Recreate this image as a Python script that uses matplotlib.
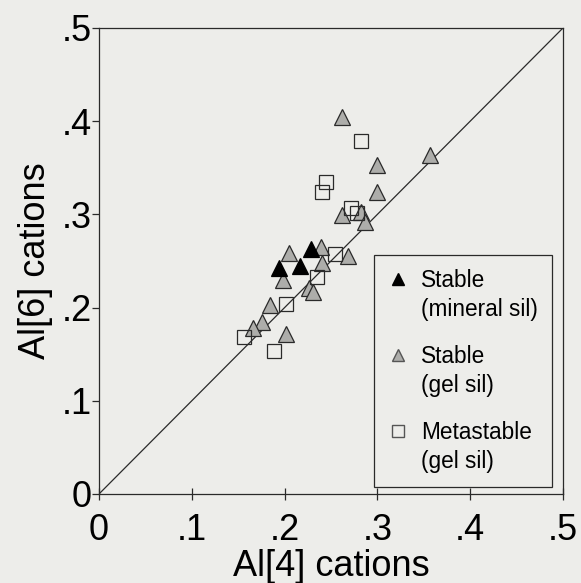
import matplotlib
matplotlib.use('Agg')
import matplotlib.pyplot as plt
import numpy as np
from matplotlib.lines import Line2D
from matplotlib.legend_handler import HandlerLine2D
from matplotlib.ticker import FuncFormatter

plt.rcParams['font.family'] = ['Liberation Sans', 'DejaVu Sans']

# Al[4] / Al[6] cation pairs
mineral_al4 = [0.228, 0.194, 0.217]
mineral_al6 = [0.263, 0.242, 0.245]

gel_al4 = [0.262, 0.300, 0.300, 0.357, 0.262, 0.282, 0.287, 0.205, 0.239,
           0.198, 0.240, 0.268, 0.226, 0.231, 0.184, 0.176, 0.166, 0.202]
gel_al6 = [0.405, 0.353, 0.324, 0.364, 0.299, 0.303, 0.292, 0.259, 0.265,
           0.230, 0.248, 0.255, 0.221, 0.217, 0.203, 0.184, 0.178, 0.172]

meta_al4 = [0.282, 0.245, 0.240, 0.272, 0.278, 0.254, 0.235, 0.202, 0.156, 0.189]
meta_al6 = [0.379, 0.335, 0.324, 0.307, 0.302, 0.257, 0.233, 0.204, 0.168, 0.153]

ticks = [0, 0.1, 0.2, 0.3, 0.4, 0.5]

bg = '#ededea'
ink = '#2a2a2a'
leg_size = 16.3


class FirstLineHandler(HandlerLine2D):
    """Put the legend marker next to the first line of a two-line label."""
    def create_artists(self, legend, orig_handle, xdescent, ydescent,
                       width, height, fontsize, trans):
        arts = super().create_artists(legend, orig_handle, xdescent, ydescent,
                                      width, height, fontsize, trans)
        for a in arts:
            a.set_ydata(np.asarray(a.get_ydata()) + 0.75 * fontsize)
        return arts


fig = plt.figure(figsize=(5.81, 5.83), dpi=100, facecolor=bg)
ax = fig.add_axes([0.1704, 0.1527, 0.7986, 0.7993], facecolor=bg)

ax.plot([0, 0.5], [0, 0.5], color=ink, lw=0.9, zorder=1)

ax.plot(gel_al4, gel_al6, ls='none', marker='^', ms=11, mfc='#adadaa',
        mec=ink, mew=0.9, zorder=3)
ax.plot(meta_al4, meta_al6, ls='none', marker='s', ms=9.5, mfc='none',
        mec=ink, mew=0.9, zorder=4)
ax.plot(mineral_al4, mineral_al6, ls='none', marker='^', ms=11, mfc='black',
        mec='black', mew=0.9, zorder=5)

ax.set_xlim(0, 0.5)
ax.set_ylim(0, 0.5)
ax.set_xticks(ticks)
ax.set_yticks(ticks)
fmt = FuncFormatter(lambda v, p: '0' if v == 0 else ('%.1f' % v).lstrip('0'))
ax.xaxis.set_major_formatter(fmt)
ax.yaxis.set_major_formatter(fmt)
ax.tick_params(axis='x', direction='inout', length=9, width=0.9, color=ink,
               labelsize=26, pad=9)
ax.tick_params(axis='y', direction='out', length=5, width=0.9, color=ink,
               labelsize=26, pad=0)
for s in ax.spines.values():
    s.set_color(ink)
    s.set_linewidth(0.9)

ax.set_xlabel('Al[4] cations', fontsize=26, labelpad=1)
ax.set_ylabel('Al[6] cations', fontsize=26, labelpad=6)

handles = [
    Line2D([], [], ls='none', marker='^', ms=9, mfc='black', mec='black'),
    Line2D([], [], ls='none', marker='^', ms=9, mfc='#adadaa', mec='#555555'),
    Line2D([], [], ls='none', marker='s', ms=8, mfc='none', mec='#555555'),
]
labels = ['Stable\n(mineral sil)', 'Stable\n(gel sil)', 'Metastable\n(gel sil)']
leg = ax.legend(handles, labels, loc='lower right', bbox_to_anchor=(0.976, 0.015),
                borderaxespad=0, fontsize=leg_size, frameon=True, fancybox=False,
                edgecolor=ink, facecolor=bg, framealpha=1, borderpad=0.6,
                handlelength=0.9, handletextpad=0.6, labelspacing=1.05,
                handler_map={Line2D: FirstLineHandler()})
leg.get_frame().set_linewidth(0.9)
for t in leg.get_texts():
    t.set_linespacing(1.35)

fig.savefig('out.png', dpi=100, facecolor=bg)
